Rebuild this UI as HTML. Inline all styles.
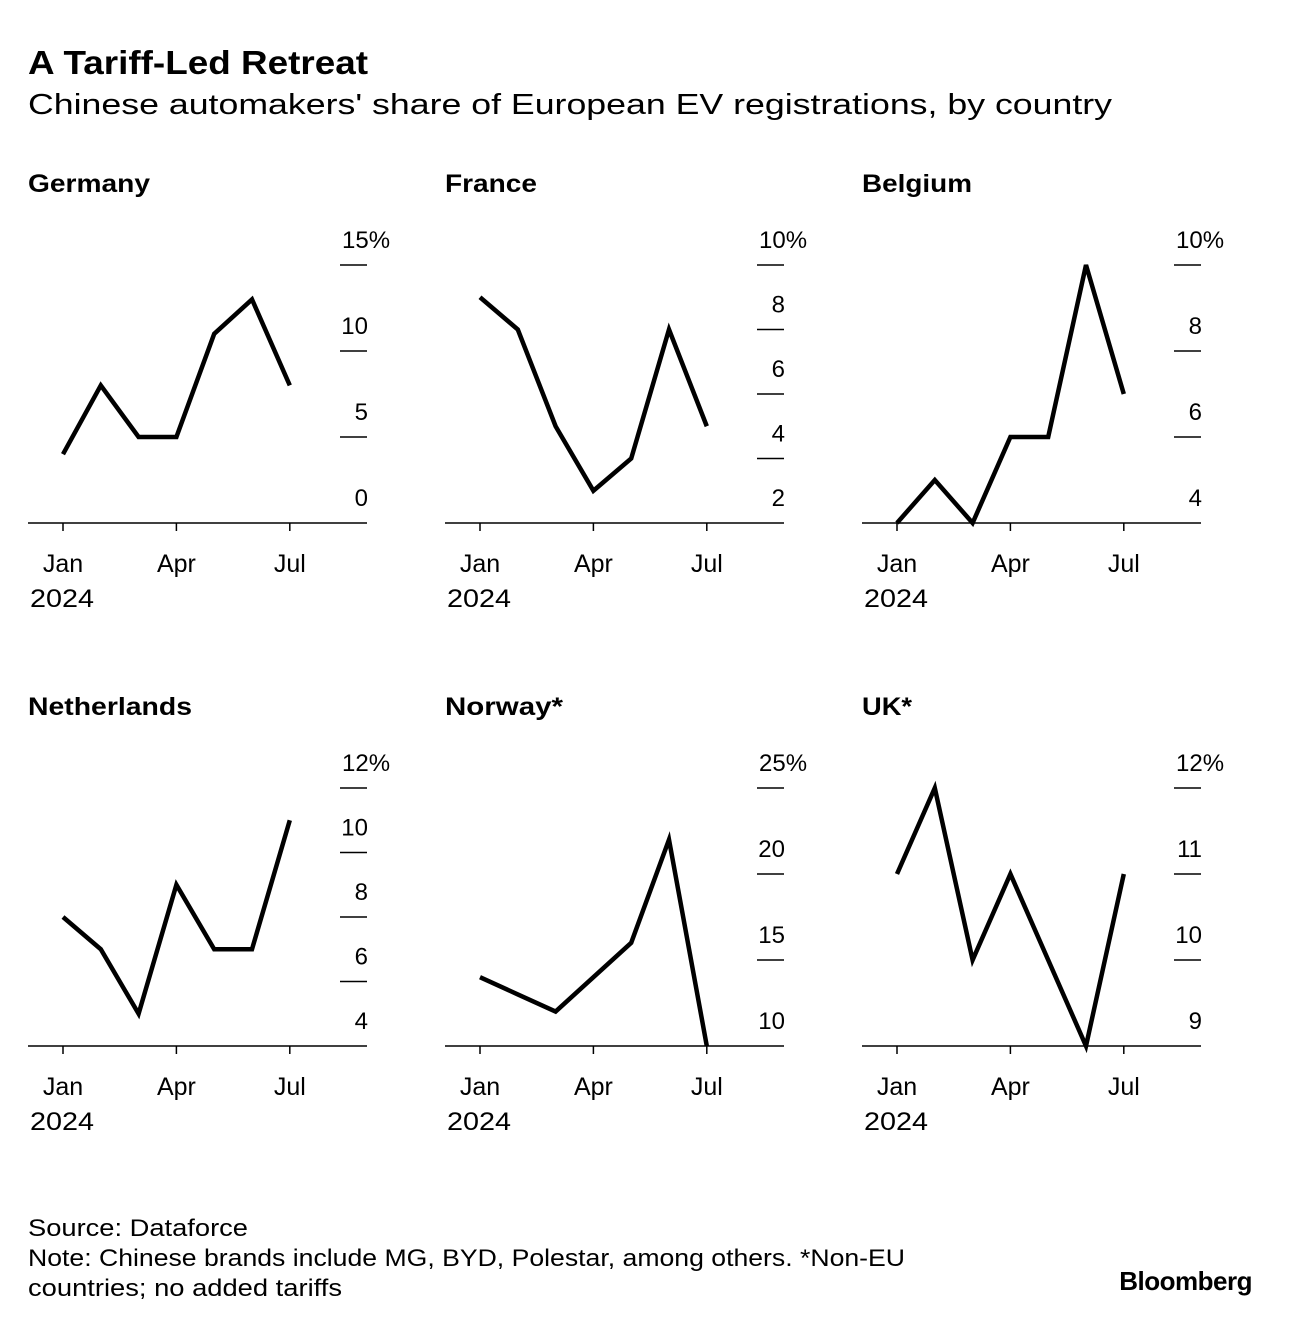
<!DOCTYPE html>
<html><head><meta charset="utf-8"><style>
body{margin:0;background:#fff;}
svg text{font-family:"Liberation Sans",Arial,sans-serif;fill:#000;}
</style></head><body>
<svg id="c" width="1292" height="1326" xmlns="http://www.w3.org/2000/svg">
<text x="28" y="74" font-size="33" font-weight="bold" textLength="340" lengthAdjust="spacingAndGlyphs">A Tariff-Led Retreat</text>
<text x="28" y="114" font-size="29" textLength="1084" lengthAdjust="spacingAndGlyphs">Chinese automakers' share of European EV registrations, by country</text>
<text x="28" y="1236" font-size="24" textLength="220" lengthAdjust="spacingAndGlyphs">Source: Dataforce</text>
<text x="28" y="1266" font-size="24" textLength="877" lengthAdjust="spacingAndGlyphs">Note: Chinese brands include MG, BYD, Polestar, among others. *Non-EU</text>
<text x="28" y="1296" font-size="24" textLength="314" lengthAdjust="spacingAndGlyphs">countries; no added tariffs</text>
<text x="1252" y="1290" font-size="26" font-weight="bold" text-anchor="end" letter-spacing="-0.5">Bloomberg</text>
</svg>
<script>
const countries = ["Germany","France","Belgium","Netherlands","Norway*","UK*"];
const germany = [4,8,5,5,11,13,8];
const france = [9,8,5,3,4,8,5];
const belgium = [4,5,4,6,6,10,7];
const netherlands = [8,7,5,9,7,7,11];
const norway = [14,13,12,14,16,22,10];
const uk = [11,12,10,11,10,9,11];
const series = [germany,france,belgium,netherlands,norway,uk];
const yMins = [0,2,4,4,10,9];
const yMaxs = [15,10,10,12,25,12];
const yTicks = [[0,5,10,15],[2,4,6,8,10],[4,6,8,10],[4,6,8,10,12],[10,15,20,25],[9,10,11,12]];
const monthLabels = [[0,"Jan"],[3,"Apr"],[6,"Jul"]];
const titleWidths = [122,92,110,164,118,50];

const svg = document.getElementById('c');
const NS = "http://www.w3.org/2000/svg";
function mk(tag, attrs){const e=document.createElementNS(NS,tag);for(const k in attrs)e.setAttribute(k,attrs[k]);return e;}

countries.forEach((name,i)=>{
  const col=i%3,row=Math.floor(i/3);
  const ox=28+col*417, bot=523+row*523, top=265+row*523;
  const g=mk('g',{});
  
  
  svg.appendChild(g);
  const t=mk('text',{x:ox,y:top-73,'font-size':25,'font-weight':'bold',textLength:titleWidths[i],lengthAdjust:'spacingAndGlyphs'});
  t.textContent=name;
  
  
  g.appendChild(t);
  const xs=m=>ox+35+m*37.8;
  const ys=v=>bot-(v-yMins[i])/(yMaxs[i]-yMins[i])*(bot-top);
  const ax=mk('line',{x1:ox,x2:ox+339,y1:bot,y2:bot,stroke:'#000','stroke-width':1.5});
  
  
  g.appendChild(ax);
  yTicks[i].forEach((v,k)=>{
    const y=ys(v);
    if(k>0){
      const tl=mk('line',{x1:ox+312,x2:ox+339,y1:y,y2:y,stroke:'#000','stroke-width':1.5});
      
      
      g.appendChild(tl);
    }
    const lb=mk('text',{x:ox+340,y:y-17,'font-size':24,'text-anchor':'end'});
    lb.textContent=v;
    if(k===yTicks[i].length-1){lb.setAttribute('x',ox+314);lb.setAttribute('text-anchor','start');lb.textContent=v+'%';}
    
    
    g.appendChild(lb);
  });
  monthLabels.forEach(([m,l])=>{
    const tk=mk('line',{x1:xs(m),x2:xs(m),y1:bot,y2:bot+8,stroke:'#000','stroke-width':1.5});
    
    
    g.appendChild(tk);
    const lb=mk('text',{x:xs(m),y:bot+49,'font-size':25,'text-anchor':'middle'});
    lb.textContent=l;
    
    
    g.appendChild(lb);
  });
  const yr=mk('text',{x:ox+2,y:bot+84,'font-size':25,textLength:64,lengthAdjust:'spacingAndGlyphs'});
  yr.textContent='2024';
  
  
  g.appendChild(yr);
  const pts=series[i].map((v,m)=>xs(m)+','+ys(v)).join(' ');
  const pl=mk('polyline',{points:pts,fill:'none',stroke:'#000','stroke-width':4.5,'stroke-linejoin':'miter'});
  
  
  g.appendChild(pl);
});
</script>
</body></html>
